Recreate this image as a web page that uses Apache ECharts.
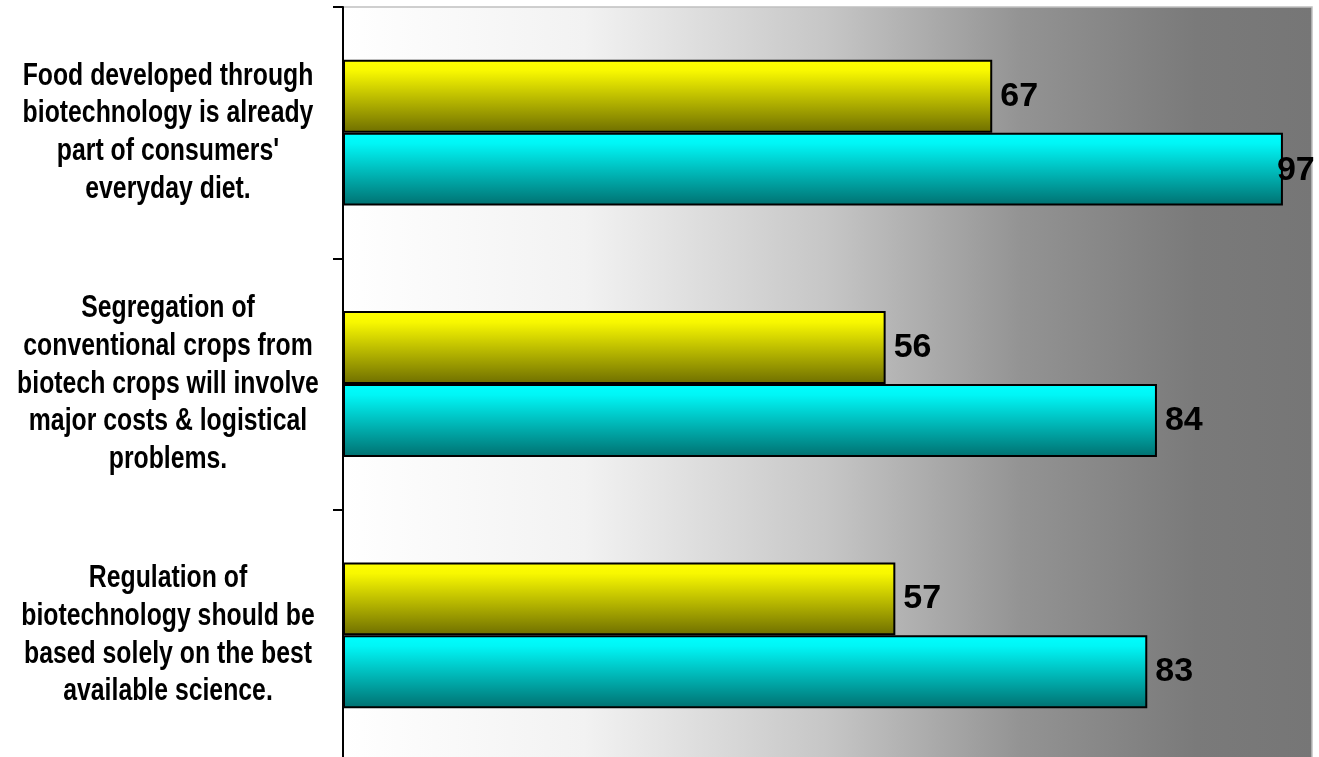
<!DOCTYPE html>
<html>
<head>
<meta charset="utf-8">
<script src="https://cdn.jsdelivr.net/npm/echarts@6/dist/echarts.min.js"></script>
<style>
html,body{margin:0;padding:0;background:#ffffff;}
#chart{width:1319px;height:757px;}
</style>
</head>
<body>
<div id="chart"></div>
<script>
var categories = [
  "Food developed through\nbiotechnology is already\npart of consumers'\neveryday diet.",
  "Segregation of\nconventional crops from\nbiotech crops will involve\nmajor costs & logistical\nproblems.",
  "Regulation of\nbiotechnology should be\nbased solely on the best\navailable science."
];
var yellowValues = [67, 56, 57];
var cyanValues = [97, 84, 83];

var chart = echarts.init(document.getElementById('chart'), null, {renderer: 'canvas'});

function vgrad(c0, c1, c2) {
  return new echarts.graphic.LinearGradient(0, 0, 0, 1, [
    {offset: 0, color: c0},
    {offset: 0.15, color: c1},
    {offset: 1, color: c2}
  ]);
}

var labelStyle = {
  show: true,
  position: 'right',
  distance: 8,
  color: '#000000',
  fontFamily: '"Liberation Sans", Arial, sans-serif',
  fontWeight: 'bold',
  fontSize: 34
};

var cyanData = cyanValues.map(function (v) {
  if (v >= 95) {
    return {value: v, label: {offset: [-14, 2]}};
  }
  return v;
});

var option = {
  animation: false,
  backgroundColor: '#ffffff',
  grid: {
    left: 343,
    right: 7,
    top: 7,
    height: 754,
    outerBoundsMode: 'none',
    containLabel: false,
    show: true,
    borderColor: '#c0c0c0',
    borderWidth: 1.5,
    backgroundColor: new echarts.graphic.LinearGradient(0, 0, 1, 0, [
      {offset: 0, color: '#ffffff'},
      {offset: 0.25, color: '#f2f2f2'},
      {offset: 0.5, color: '#c6c6c6'},
      {offset: 0.7, color: '#939393'},
      {offset: 0.88, color: '#7a7a7a'},
      {offset: 1, color: '#767676'}
    ])
  },
  xAxis: {
    type: 'value',
    min: 0,
    max: 100,
    show: false
  },
  yAxis: {
    type: 'category',
    data: categories,
    inverse: true,
    axisLine: {show: true, lineStyle: {color: '#000000', width: 2}},
    axisTick: {show: true, length: 10, lineStyle: {color: '#000000', width: 2}},
    axisLabel: {show: false},
    splitLine: {show: false}
  },
  series: [
    {
      name: 'Yellow',
      type: 'bar',
      data: yellowValues,
      barGap: '0%',
      barCategoryGap: '42%',
      itemStyle: {
        color: vgrad('#ffff00', '#f8f800', '#6e6e00'),
        borderColor: '#000000',
        borderWidth: 2
      },
      label: labelStyle
    },
    {
      name: 'Cyan',
      type: 'bar',
      data: cyanData,
      barGap: '0%',
      barCategoryGap: '42%',
      itemStyle: {
        color: vgrad('#00ffff', '#00f6f6', '#007070'),
        borderColor: '#000000',
        borderWidth: 2
      },
      label: labelStyle
    }
  ]
};
chart.setOption(option);

// Category labels as narrow (horizontally condensed) text, positioned by the category axis
var labelEls = categories.map(function (c, i) {
  var y = chart.convertToPixel({yAxisIndex: 0}, i);
  return {
    type: 'text',
    x: 168,
    y: y,
    scaleX: 0.8,
    silent: true,
    style: {
      text: c,
      fill: '#000000',
      fontFamily: '"Liberation Sans", Arial, sans-serif',
      fontWeight: 'bold',
      fontSize: 31,
      lineHeight: 37.7,
      align: 'center',
      verticalAlign: 'middle'
    }
  };
});
chart.setOption({graphic: labelEls});
</script>
</body>
</html>
